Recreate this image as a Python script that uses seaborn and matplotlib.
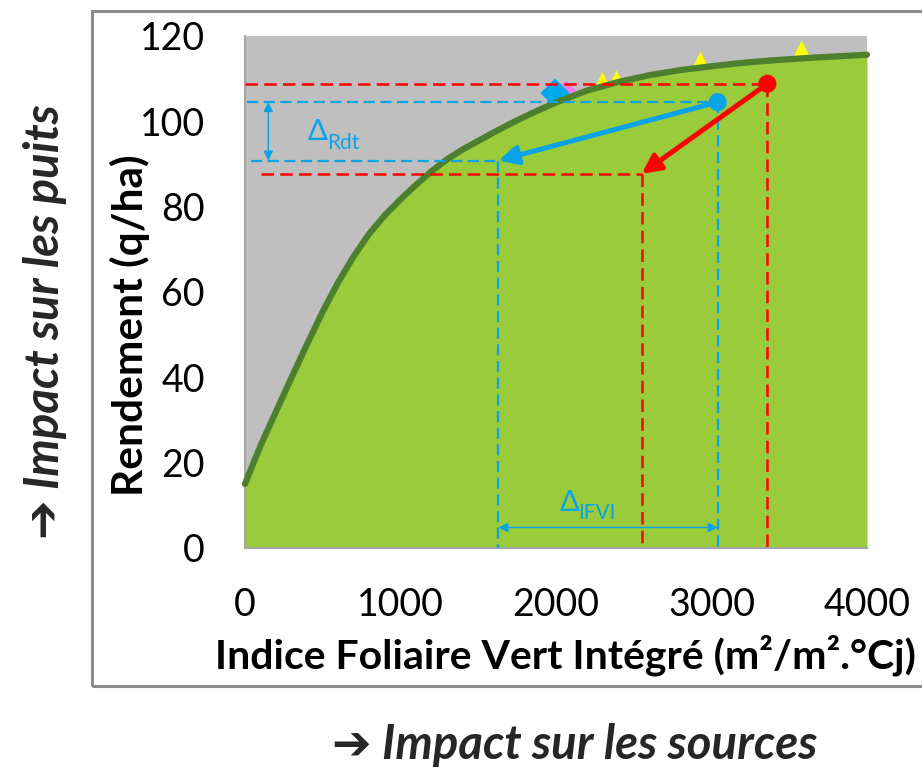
import matplotlib
matplotlib.use("Agg")
import matplotlib.pyplot as plt
from matplotlib.patches import Rectangle
import numpy as np
import pandas as pd
import seaborn as sns

# Yield response curve: integrated green leaf index vs yield
ifvi = [0, 100, 200, 300, 400, 500, 600, 700, 800, 900, 1000, 1100, 1200, 1300,
        1400, 1500, 1600, 1700, 1800, 1900, 2000, 2200, 2400, 2600, 2800, 3000,
        3200, 3400, 3600, 3800, 4000]
rdt = [15.0, 24.0, 32.0, 40.0, 47.8, 55.4, 62.3, 68.4, 73.7, 78.0, 81.7, 85.1,
       88.3, 91.1, 93.4, 95.4, 97.4, 99.3, 101.1, 102.8, 104.4, 107.2, 109.2,
       110.8, 112.0, 112.9, 113.7, 114.3, 114.8, 115.2, 115.6]

# Observed points
tri_x = [2300, 2390, 2930, 3580]
tri_y = [108.9, 109.3, 113.7, 116.3]
dia_x = [1994]
dia_y = [106.6]
pink_x = [2065]
pink_y = [107.0]

# Scenario shifts (start -> end)
red_start = (3360, 108.8)
red_end = (2551, 87.7)
blue_start = (3040, 104.5)
blue_end = (1630, 90.8)

x_ticks = [0, 1000, 2000, 3000, 4000]
y_ticks = [0, 20, 40, 60, 80, 100, 120]

xlabel = "Indice Foliaire Vert Intégré (m²/m².°Cj)"
ylabel = "Rendement (q/ha)"
sink_text = "➔ Impact sur les puits"
source_text = "➔ Impact sur les sources"

GRAY_BG = "#BFBFBF"
GREEN_FILL = "#9ACB3A"
GREEN_LINE = "#4E7F2C"
BLUE = "#0AA3E6"
RED = "#FF0000"

sns.set_theme(style="white")
plt.rcParams["font.family"] = ["Lato", "DejaVu Sans"]

fig = plt.figure(figsize=(9.22, 7.68), dpi=100)
ax = fig.add_axes([0.2657, 0.2865, 0.6746, 0.6667])
ax.set_facecolor(GRAY_BG)

curve = pd.DataFrame({"ifvi": ifvi, "rdt": rdt})

# markers sit underneath the green area
sns.scatterplot(x=tri_x, y=tri_y, marker="^", s=260, color="#FFFF00",
                edgecolor="none", ax=ax, zorder=1)
sns.scatterplot(x=pink_x, y=pink_y, marker="D", s=120, color="#F27CF2",
                edgecolor="none", ax=ax, zorder=1)
sns.scatterplot(x=dia_x, y=dia_y, marker="D", s=220, color="#00A8EC",
                edgecolor="none", ax=ax, zorder=1)

ax.fill_between(curve["ifvi"], 0, curve["rdt"], color=GREEN_FILL, lw=0, zorder=2)
sns.lineplot(data=curve, x="ifvi", y="rdt", color=GREEN_LINE, lw=4.5,
             sort=False, estimator=None, ax=ax, zorder=3, clip_on=False)

# guide lines
dash_r = dict(color=RED, lw=1.8, dashes=(5, 2.5), zorder=4)
dash_b = dict(color=BLUE, lw=1.6, dashes=(5, 2.5), zorder=4)
ax.plot([0, red_start[0]], [red_start[1]] * 2, **dash_r)
ax.plot([red_start[0]] * 2, [red_start[1], 0], **dash_r)
ax.plot([100, red_end[0]], [red_end[1]] * 2, **dash_r)
ax.plot([red_end[0]] * 2, [red_end[1], 0], **dash_r)
ax.plot([10, blue_start[0]], [blue_start[1]] * 2, **dash_b)
ax.plot([blue_start[0]] * 2, [blue_start[1], 0], **dash_b)
ax.plot([40, blue_end[0]], [blue_end[1]] * 2, **dash_b)
ax.plot([blue_end[0]] * 2, [blue_end[1], 0], **dash_b)

# shift arrows
for (s, e, c) in [(blue_start, blue_end, BLUE), (red_start, red_end, RED)]:
    ax.annotate("", xy=e, xytext=s,
                arrowprops=dict(arrowstyle="-|>", color=c, lw=3.6,
                                mutation_scale=28, shrinkA=0, shrinkB=0),
                zorder=6)
    ax.scatter([s[0]], [s[1]], s=170, color=c, zorder=7, edgecolor="none")

# delta annotations
ax.annotate("", xy=(150, blue_end[1]), xytext=(150, blue_start[1]),
            arrowprops=dict(arrowstyle="<|-|>", color=BLUE, lw=1.0,
                            mutation_scale=14, shrinkA=0, shrinkB=0), zorder=6)
ax.text(469, 97.5, "Δ", color=BLUE, fontsize=21, ha="center", va="center", zorder=6)
ax.text(632, 94.8, "Rdt", color=BLUE, fontsize=15, ha="center", va="center", zorder=6)

ax.annotate("", xy=(blue_end[0], 4.8), xytext=(blue_start[0], 4.8),
            arrowprops=dict(arrowstyle="<|-|>", color=BLUE, lw=1.0,
                            mutation_scale=14, shrinkA=0, shrinkB=0), zorder=6)
ax.text(2090, 10.6, "Δ", color=BLUE, fontsize=21, ha="center", va="center", zorder=6)
ax.text(2262, 8.2, "IFVI", color=BLUE, fontsize=15, ha="center", va="center", zorder=6)

ax.set_xlim(0, 4000)
ax.set_ylim(0, 120)
ax.set_xticks(x_ticks)
ax.set_yticks(y_ticks)
ax.tick_params(axis="both", which="major", direction="out", length=7, width=1.5,
               color="#A6A6A6", labelsize=27, labelcolor="black")
ax.tick_params(axis="x", pad=21)
ax.tick_params(axis="y", pad=22)
for side in ["top", "right"]:
    ax.spines[side].set_visible(False)
for side in ["left", "bottom"]:
    ax.spines[side].set_color("#A6A6A6")
    ax.spines[side].set_linewidth(1.5)

ax.set_xlabel(xlabel, fontsize=29.5, fontweight="bold", color="black")
ax.set_ylabel(ylabel, fontsize=30.5, fontweight="bold", color="black")
ax.xaxis.set_label_coords(0.5145, -0.209)
ax.yaxis.set_label_coords(-0.185, 0.436)
ax.xaxis.label.set_va("center")
ax.yaxis.label.set_va("center")

# chart frame
fig.patches.append(Rectangle((92 / 922, 1 - 686 / 768), 1.0, (686 - 11) / 768,
                             transform=fig.transFigure, fill=False,
                             edgecolor="#8C8C8C", lw=2.2, clip_on=False))

fig.text(45 / 922, 1 - 322 / 768, sink_text, rotation=90, ha="center", va="center",
         fontsize=34, fontweight="bold", fontstyle="italic",
         family=["Lato", "DejaVu Sans"])
fig.text(575 / 922, 1 - 745 / 768, source_text, ha="center", va="center",
         fontsize=34, fontweight="bold", fontstyle="italic",
         family=["Lato", "DejaVu Sans"])

fig.savefig("out.png", dpi=100)
